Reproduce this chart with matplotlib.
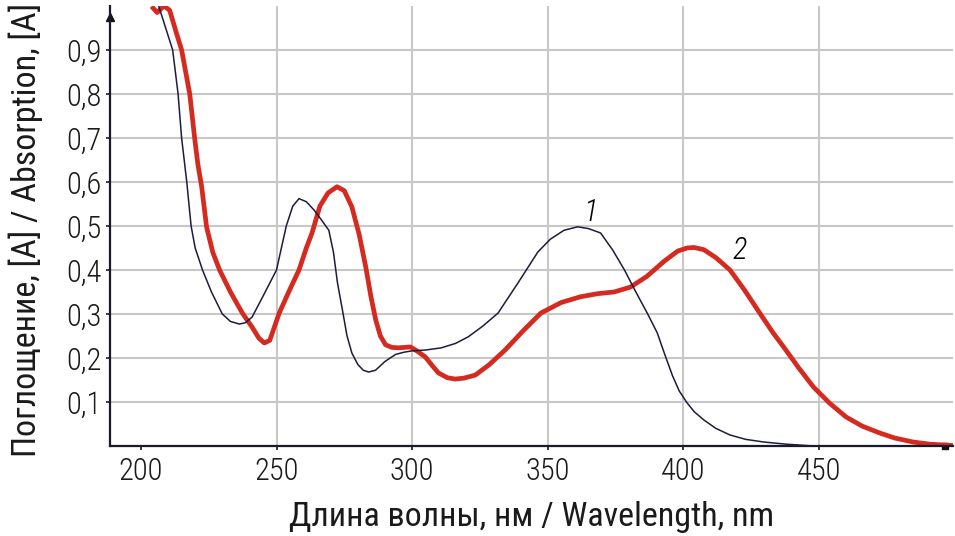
import matplotlib.pyplot as plt
import numpy as np

plt.rcParams['font.family'] = ['Roboto Condensed', 'PT Sans Narrow', 'Archivo Narrow', 'DejaVu Sans']
plt.rcParams['font.weight'] = 'light'

# spectrum 1 (thin dark line)
wl_1 = [205.5, 211.7, 213.7, 215.0, 216.9, 218.5, 220.0, 222.7, 226, 230, 233, 236.3,
        238.5, 241, 245, 250, 253.6, 256, 258.3, 261, 264, 267, 269.3, 271, 272.5,
        274.1, 276, 277.8, 280, 282, 284, 286.5, 290, 293.9, 297, 299.8, 305, 310.8,
        316, 320.7, 326, 331.7, 339, 346.4, 351, 356, 361, 365, 369.5, 374, 378.3,
        382.5, 386.7, 390.4, 393, 396, 398.5, 401.4, 404, 407.6, 412, 417.2, 423,
        429.6, 438, 448, 450]
abs_1 = [1.02, 0.90, 0.80, 0.70, 0.60, 0.50, 0.45, 0.40, 0.35, 0.30, 0.283, 0.277,
         0.280, 0.293, 0.34, 0.40, 0.50, 0.545, 0.562, 0.555, 0.535, 0.51, 0.49, 0.44,
         0.37, 0.316, 0.25, 0.211, 0.185, 0.172, 0.168, 0.172, 0.192, 0.208, 0.213,
         0.216, 0.218, 0.223, 0.233, 0.248, 0.272, 0.302, 0.37, 0.441, 0.47, 0.49,
         0.498, 0.494, 0.484, 0.445, 0.40, 0.35, 0.302, 0.257, 0.211, 0.160, 0.125,
         0.098, 0.078, 0.059, 0.040, 0.025, 0.015, 0.009, 0.004, 0.0, 0.0]

# spectrum 2 (thick red line)
wl_2 = [204.5, 206, 208.5, 210.6, 213, 215, 216.5, 218, 219.8, 221, 222.4, 224.2,
        226.5, 229, 233, 237.4, 241, 243.5, 245.5, 247.5, 251, 254.5, 258.3, 261,
        263.1, 266, 269, 272.3, 275, 277.8, 280.5, 282.9, 284.8, 286.6, 288.3, 290.2,
        292.5, 295, 299.4, 302, 304.9, 307.5, 309.7, 313, 315.9, 319, 323.3, 328.5,
        334.3, 341, 347.5, 355, 362.1, 368.4, 374.6, 380.5, 386.5, 393, 398, 401.5,
        404, 407.6, 412, 417.2, 422.5, 428.2, 433, 437, 442.5, 448, 454, 460, 466,
        472.2, 478, 484.7, 491, 496.8, 499.5]
abs_2 = [0.995, 0.985, 1.0, 0.99, 0.94, 0.90, 0.85, 0.80, 0.70, 0.64, 0.589, 0.498,
         0.44, 0.40, 0.35, 0.302, 0.27, 0.245, 0.234, 0.24, 0.302, 0.35, 0.40, 0.45,
         0.484, 0.545, 0.575, 0.589, 0.58, 0.543, 0.48, 0.407, 0.34, 0.286, 0.25, 0.23,
         0.224, 0.223, 0.225, 0.215, 0.202, 0.182, 0.166, 0.155, 0.152, 0.154, 0.161,
         0.185, 0.218, 0.262, 0.302, 0.326, 0.339, 0.346, 0.350, 0.361, 0.385, 0.42,
         0.443, 0.450, 0.451, 0.446, 0.428, 0.40, 0.355, 0.302, 0.258, 0.225, 0.178,
         0.134, 0.097, 0.066, 0.045, 0.03, 0.018, 0.009, 0.004, 0.002, 0.001]

x_ticks = [200, 250, 300, 350, 400, 450]
y_ticks = [0.1, 0.2, 0.3, 0.4, 0.5, 0.6, 0.7, 0.8, 0.9]

fig = plt.figure(figsize=(9.55, 5.36), dpi=100)
ax = fig.add_axes([0.1152, 0.168, 0.8828, 0.821])

# grid (no vertical line at 200)
for v in x_ticks[1:]:
    ax.axvline(v, color='#c8c8c8', lw=1.5, zorder=0)
for v in y_ticks:
    ax.axhline(v, color='#c8c8c8', lw=1.5, zorder=0)

ax.plot(wl_1, abs_1, color='#1c1c3c', lw=1.1, zorder=3)
ax.plot(wl_2, abs_2, color='#d42a20', lw=3.4, zorder=2)

ax.text(365.8, 0.532, '1', fontsize=22, style='italic', ha='center', va='center')
ax.text(420.9, 0.445, '2', fontsize=22, style='italic', ha='center', va='center')

ax.set_xlim(188.6, 499.5)
ax.set_ylim(0, 1.0)
ax.set_xticks(x_ticks)
ax.set_yticks(y_ticks)
ax.set_yticklabels([f'{v:.1f}'.replace('.', ',') for v in y_ticks])
ax.tick_params(axis='both', labelsize=22, colors='#1a1a1a', length=3, width=1.2)
ax.tick_params(axis='x', pad=5)
ax.tick_params(axis='y', pad=3)

for s in ['top', 'right']:
    ax.spines[s].set_visible(False)
for s in ['left', 'bottom']:
    ax.spines[s].set_color('#1a1a2a')
    ax.spines[s].set_linewidth(1.6)

# arrow heads on the axes
ax.plot([0], [0.975], marker='^', color='#111111', markersize=6,
        transform=ax.transAxes, clip_on=False)
ax.plot([0.99], [0.0], marker='s', color='#111111', markersize=4,
        transform=ax.transAxes, clip_on=False, zorder=1)

ax.set_xlabel('Длина волны, нм / Wavelength, nm', fontsize=24.5, color='#1a1a1a')
ax.set_ylabel('Поглощение, [A] / Absorption, [A]', fontsize=24.5, color='#1a1a1a')
ax.xaxis.set_label_coords(0.5, -0.125)
ax.yaxis.set_label_coords(-0.08, 0.49)

fig.savefig('out.png', dpi=100)
